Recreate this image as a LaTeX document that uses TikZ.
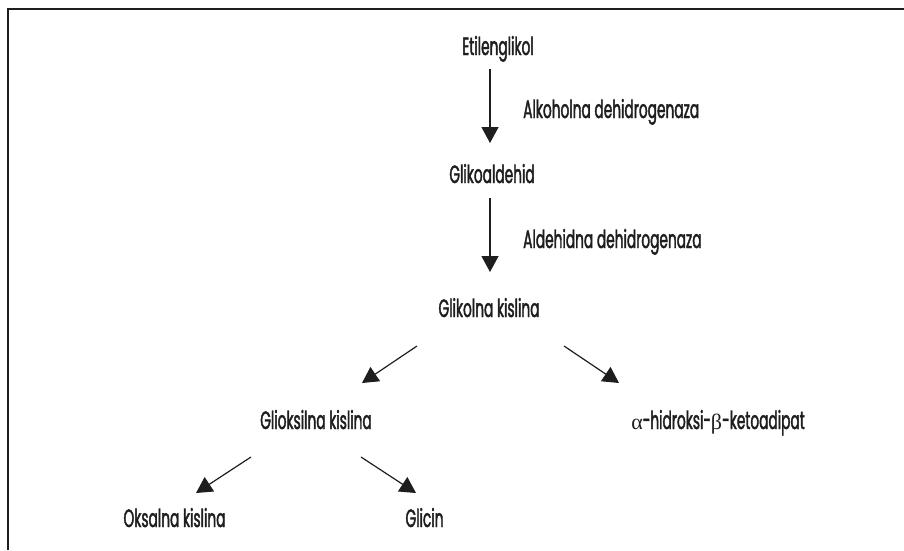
\documentclass[tikz,border=0pt]{standalone}
\usepackage{fontspec}
\setmainfont[FakeStretch=0.55,FakeBold=1.6,BoldFont={Poppins}]{Poppins}
\newfontfamily\greekfont{Liberation Serif}
\usetikzlibrary{arrows.meta}
\definecolor{ink}{HTML}{1E1E1E}
\begin{document}
\begin{tikzpicture}[x=1pt,y=-1pt,
  lbl/.style={anchor=base,inner sep=0pt,text=ink,font=\fontsize{25}{28}\selectfont\bfseries},
  enz/.style={anchor=base west,inner sep=0pt,text=ink,font=\fontsize{25}{28}\selectfont\bfseries},
  arr/.style={draw=ink,line width=1.2pt,-{Triangle[width=17pt,length=16pt]}},
  frame/.style={draw=ink,line width=2pt}]
\useasboundingbox (0,0) rectangle (904,550);
\draw[frame] (7.5,550) -- (7.5,8.7) -- (904,8.7);

\node[lbl] (et) at (498,55) {Etilenglikol};
\node[lbl] (ga) at (492,183) {Glikoaldehid};
\node[lbl] (gk) at (489,317) {Glikolna kislina};
\node[lbl] (gx) at (316,429) {Glioksilna kislina};
\node[lbl] (hk) at (718,429) {{\greekfont\mdseries\fontsize{22}{26}\selectfont α}-hidroksi-{\greekfont\mdseries\fontsize{22}{26}\selectfont β}-ketoadipat};
\node[lbl] (ok) at (174.5,527) {Oksalna kislina};
\node[lbl] (gc) at (424.5,527) {Glicin};
\node[enz] (adh) at (523,118) {Alkoholna dehidrogenaza};
\node[enz] (aldh) at (523,248) {Aldehidna dehidrogenaza};

\coordinate (a1s) at (490,69);  \coordinate (a1e) at (490,143);
\coordinate (a2s) at (490,198); \coordinate (a2e) at (490,272);
\coordinate (a3s) at (417,346); \coordinate (a3e) at (362,383);
\coordinate (a4s) at (564,346); \coordinate (a4e) at (619,383);
\coordinate (a5s) at (251,457); \coordinate (a5e) at (196,493);
\coordinate (a6s) at (361,457); \coordinate (a6e) at (416,493);

\draw[arr] (a1s) -- (a1e);
\draw[arr] (a2s) -- (a2e);
\draw[arr] (a3s) -- (a3e);
\draw[arr] (a4s) -- (a4e);
\draw[arr] (a5s) -- (a5e);
\draw[arr] (a6s) -- (a6e);
\end{tikzpicture}
\end{document}
